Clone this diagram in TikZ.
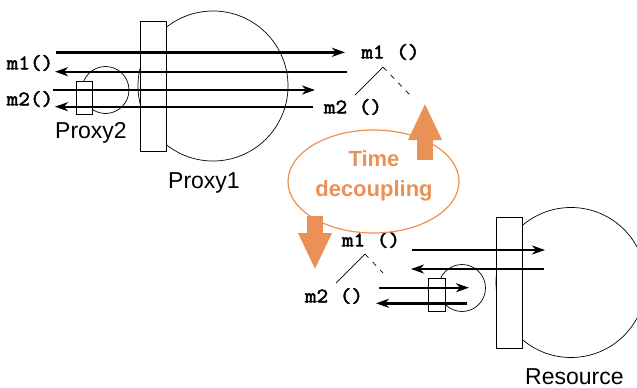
\documentclass[tikz,border=0pt]{standalone}
\usepackage{fontspec}
\usetikzlibrary{arrows.meta, shapes.geometric}
\newfontfamily\sansfnt{Liberation Sans}
\newfontfamily\codefnt[FakeBold=2.5, FakeStretch=1.1]{Latin Modern Mono}
\definecolor{cam}{RGB}{234,145,88}
\tikzset{
  hop/.style={draw, fill=white, line width=0.7pt, inner sep=0pt, outer sep=0pt},
  tia/.style={line width=2.4pt, -{Stealth[length=13pt,width=9pt,inset=4pt]}},
  ten/.style={font=\sansfnt\fontsize{23}{27}\selectfont, inner sep=0pt, anchor=base west},
  ham/.style={font=\codefnt\fontsize{20.5}{22}\selectfont, inner sep=0pt},
  muiten/.style={cam, line width=16pt, -{Triangle[length=37pt,width=31pt]}}
}
\begin{document}
\begin{tikzpicture}[x=1pt, y=-1pt]
    \useasboundingbox (0,0) rectangle (637,388);
    % Vòng tròn
    \draw[line width=0.7pt] (213,86) circle [radius=75];
    \draw[line width=0.7pt] (105.5,90) circle [radius=23.5];
    \draw[line width=0.7pt] (571,282.5) circle [radius=75];
    \draw[line width=0.7pt] (462,288) circle [radius=23.5];

    % Hộp proxy
    \node[hop, minimum width=26pt, minimum height=130pt] (p1) at (153,86) {};
    \node[hop, minimum width=16pt, minimum height=33pt] (p2) at (84.2,97.5) {};
    \node[hop, minimum width=26pt, minimum height=131pt] (res) at (509.5,282.8) {};
    \node[hop, minimum width=16.5pt, minimum height=33pt] (q2) at (436.7,294.7) {};

    % Điểm đầu, cuối các tia
    \coordinate (a1) at (56,52.3);   \coordinate (b1) at (345,52.3);
    \coordinate (a2) at (346.7,71.7); \coordinate (b2) at (55,71.7);
    \coordinate (a3) at (53,90);     \coordinate (b3) at (315,90);
    \coordinate (a4) at (313,106.7); \coordinate (b4) at (55,106.7);
    \coordinate (c1) at (412,250);   \coordinate (d1) at (545,250);
    \coordinate (c2) at (544,269);   \coordinate (d2) at (411,269);
    \coordinate (c3) at (379,287.7); \coordinate (d3) at (469,287.7);
    \coordinate (c4) at (467,303.3); \coordinate (d4) at (376,303.3);
    \foreach \i in {1,...,4} {
        \draw[tia] (a\i) -- (b\i);
        \draw[tia] (c\i) -- (d\i);
    }

    % Nhãn
    \node[ham] (m1a) at (30,63) {m1()};
    \node[ham] (m2a) at (30,99) {m2()};
    \node[ham] (m1b) at (390.5,52) {m1 ()};
    \node[ham] (m2b) at (353,107) {m2 ()};
    \node[ham] (m1c) at (371,240) {m1 ()};
    \node[ham] (m2c) at (334,296) {m2 ()};
    \node[ten] (lp2) at (55,138.3) {Proxy2};
    \node[ten] (lp1) at (168,188.3) {Proxy1};
    \node[ten, text depth=0pt] (lres) at (525,384.5) {Resource};

    % Nhánh m1 - m2
    \coordinate (t1) at (383,67);
    \draw[line width=0.7pt] (355,95) -- (t1);
    \draw[line width=0.7pt, dash pattern=on 5pt off 6pt] (t1) -- (411,96);
    \coordinate (t2) at (365,254);
    \draw[line width=0.7pt] (336,283) -- (t2);
    \draw[line width=0.7pt, dash pattern=on 5pt off 6pt] (t2) -- (383,273);

    % Tách thời gian
    \node[draw=cam, line width=1.2pt, ellipse, minimum width=171pt, minimum height=103pt] (tg) at (373.5,181.5) {};
    \node[cam, align=center, inner sep=0pt, font=\sansfnt\bfseries\fontsize{22}{30.6}\selectfont] (ttg) at (374,176) {Time\\decoupling};
    \coordinate (u1) at (425,160); \coordinate (u2) at (425,103);
    \coordinate (v1) at (315,215.7); \coordinate (v2) at (315,270);
    \draw[muiten] (u1) -- (u2);
    \draw[muiten] (v1) -- (v2);
\end{tikzpicture}
\end{document}
